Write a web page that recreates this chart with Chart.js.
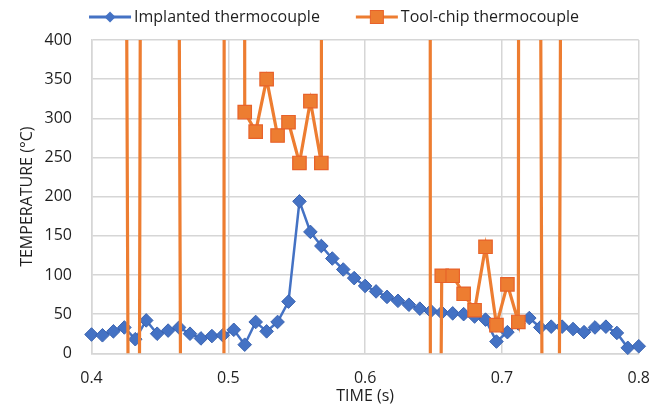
<!DOCTYPE html>
<html><head><meta charset="utf-8">
<script src="https://cdn.jsdelivr.net/npm/chart.js@4.4.1/dist/chart.umd.min.js"></script>
<style>html,body{margin:0;padding:0;background:#fff;}#wrap{width:666px;height:415px;}</style>
</head><body><div id="wrap"><canvas id="c" width="666" height="415"></canvas></div>
<script>
const times = [0.400,0.408,0.416,0.424,0.432,0.440,0.448,0.456,0.464,0.472,
  0.480,0.488,0.496,0.504,0.512,0.520,0.528,0.536,0.544,0.552,
  0.560,0.568,0.576,0.584,0.592,0.600,0.608,0.616,0.624,0.632,
  0.640,0.648,0.656,0.664,0.672,0.680,0.688,0.696,0.704,0.712,
  0.720,0.728,0.736,0.744,0.752,0.760,0.768,0.776,0.784,0.792,0.800];
const implanted = [24,23,28,33,18,42,25,29,33,25,
  19,22,23,30,11,40,28,40,66,194,
  155,137,121,107,96,86,79,72,67,62,
  57,54,52,51,50,47,43,15,27,38,
  45,33,34,34,31,27,33,34,26,7,9];
// tool-chip readings: values outside 0-400 are off-scale spikes (clipped by the axis)
const toolChip = [1500,1500,1500,1200,-2400,3800,3800,3800,500,-3500,
  -3500,-3500,-2250,20000,308,283,350,278,295,243,
  322,243,20000,20000,20000,20000,20000,20000,20000,20000,
  100000,-1800,99,99,76,55,136,36,88,40,
  20000,600,-3400,1100,1100,1100,1100,1100,1100,1100,1100];
const xTicks = [0.4,0.5,0.6,0.7,0.8];
const yTicks = [0,50,100,150,200,250,300,350,400];
const seriesNames = ['Implanted thermocouple','Tool-chip thermocouple'];
const xTitle = 'TIME (s)';
const yTitle = 'TEMPERATURE (°C)';

const FONT = "'Open Sans', sans-serif";
const TXT = '#1f1f1f';
const GRID = '#d6d6d6';
const BLUE = '#4472C4', ORANGE = '#ED7D31';

Chart.defaults.font.family = FONT;
Chart.defaults.font.size = 16;
Chart.defaults.color = TXT;

const legendPlugin = {
  id: 'customLegend',
  afterDraw(chart) {
    const ctx = chart.ctx;
    ctx.save();
    ctx.font = '16px ' + FONT;
    ctx.textBaseline = 'middle';
    ctx.fillStyle = TXT;
    const lineLen = 42, gapText = 3, gapItem = 36;
    const w1 = ctx.measureText(seriesNames[0]).width;
    const w2 = ctx.measureText(seriesNames[1]).width;
    const total = lineLen + gapText + w1 + gapItem + lineLen + gapText + w2;
    let x = 334 - total / 2;
    const y = 17;
    ctx.strokeStyle = BLUE; ctx.lineWidth = 3;
    ctx.beginPath(); ctx.moveTo(x, y); ctx.lineTo(x + lineLen, y); ctx.stroke();
    const cx1 = x + lineLen / 2;
    ctx.fillStyle = BLUE;
    ctx.beginPath(); ctx.moveTo(cx1, y - 5.5); ctx.lineTo(cx1 + 5.5, y); ctx.lineTo(cx1, y + 5.5); ctx.lineTo(cx1 - 5.5, y); ctx.closePath(); ctx.fill();
    ctx.fillStyle = TXT;
    ctx.fillText(seriesNames[0], x + lineLen + gapText, y);
    x += lineLen + gapText + w1 + gapItem;
    ctx.strokeStyle = ORANGE; ctx.lineWidth = 3;
    ctx.beginPath(); ctx.moveTo(x, y); ctx.lineTo(x + lineLen, y); ctx.stroke();
    const cx2 = x + lineLen / 2;
    ctx.fillStyle = ORANGE; ctx.strokeStyle = '#E8622A'; ctx.lineWidth = 1;
    ctx.fillRect(cx2 - 6.5, y - 6.5, 13, 13); ctx.strokeRect(cx2 - 6.5, y - 6.5, 13, 13);
    ctx.fillStyle = TXT;
    ctx.fillText(seriesNames[1], x + lineLen + gapText, y);
    ctx.restore();
  }
};

new Chart(document.getElementById('c'), {
  type: 'line',
  data: {
    datasets: [
      {
        label: seriesNames[0],
        data: times.map((t, i) => ({x: t, y: implanted[i]})),
        borderColor: BLUE, borderWidth: 2.5,
        pointStyle: 'rectRot', pointRadius: 6.8,
        pointBackgroundColor: BLUE, pointBorderColor: '#3A63B0', pointBorderWidth: 1,
        tension: 0, clip: false, order: 2
      },
      {
        label: seriesNames[1],
        data: times.map((t, i) => ({x: t, y: toolChip[i]})),
        borderColor: ORANGE, borderWidth: 3.2,
        pointStyle: 'rect', pointRadius: 9.5,
        pointBackgroundColor: ORANGE, pointBorderColor: '#E8622A', pointBorderWidth: 1.2,
        tension: 0, clip: 0, order: 1
      }
    ]
  },
  options: {
    responsive: false,
    animation: false,
    events: [],
    devicePixelRatio: 1,
    layout: {padding: {left: 0, right: 25.5, top: 40, bottom: 0}},
    plugins: {legend: {display: false}, tooltip: {enabled: false}},
    scales: {
      x: {
        type: 'linear', min: 0.4, max: 0.8,
        afterBuildTicks: s => { s.ticks = xTicks.map(v => ({value: v})); },
        afterFit: s => { s.height = 61.7; },
        ticks: {padding: 16, color: TXT, font: {size: 16}, callback: v => Number(v).toFixed(1)},
        grid: {color: GRID, lineWidth: 1.5, drawTicks: false},
        border: {color: GRID, width: 1.5},
        title: {display: true, text: xTitle, color: TXT, font: {size: 16}, padding: {top: 0, bottom: 9}}
      },
      y: {
        type: 'linear', min: 0, max: 400,
        afterBuildTicks: s => { s.ticks = yTicks.map(v => ({value: v})); },
        afterFit: s => { s.width = 91.5; },
        ticks: {padding: 19.5, color: TXT, font: {size: 16}},
        grid: {color: GRID, lineWidth: 1.5, drawTicks: false},
        border: {color: GRID, width: 1.5},
        title: {display: true, text: yTitle, color: TXT, font: {size: 16}, padding: {top: 18, bottom: 0}}
      }
    }
  },
  plugins: [legendPlugin]
});
</script>
</body></html>
